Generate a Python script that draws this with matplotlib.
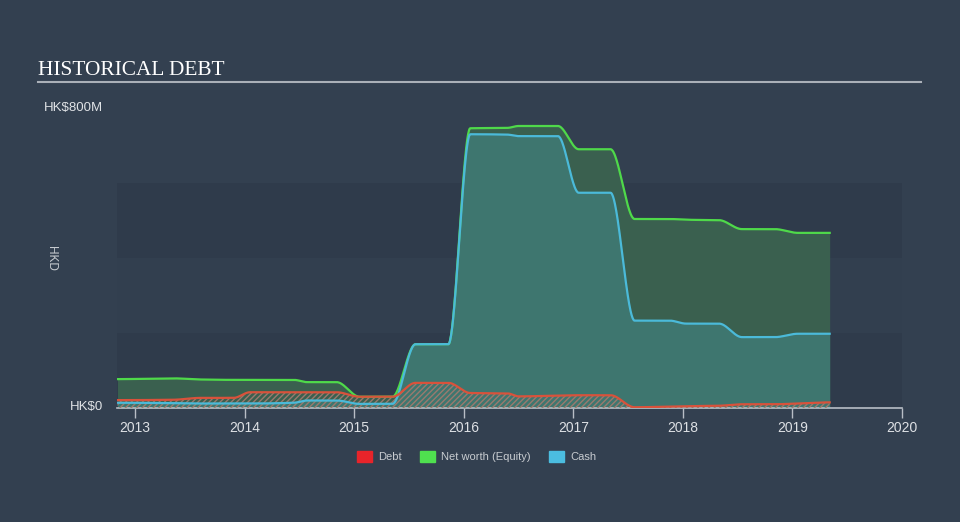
import numpy as np
import matplotlib
matplotlib.use("Agg")
import matplotlib.pyplot as plt
from matplotlib.patches import Rectangle

# ---- data (HK$ millions) ----
dates = [2012.84, 2013.35, 2013.6, 2013.9, 2014.05, 2014.45, 2014.57, 2014.84,
         2015.05, 2015.35, 2015.56, 2015.86, 2016.06, 2016.4, 2016.5, 2016.86,
         2017.05, 2017.34, 2017.56, 2017.88, 2018.03, 2018.33, 2018.54, 2018.84,
         2019.05, 2019.34]
net_worth = [77, 79, 76, 75, 75, 75, 69, 69,
             30, 30, 170, 170, 746, 747, 752, 752,
             690, 690, 504, 504, 502, 501, 477, 477,
             467, 467]
cash = [14, 13, 12, 12, 12, 14, 20, 20,
        11, 11, 170, 170, 730, 729, 725, 725,
        574, 574, 233, 233, 225, 225, 189, 189,
        198, 198]
debt = [21, 22, 27, 27, 42, 42, 42, 42,
        30, 30, 67, 67, 40, 39, 31, 33,
        34, 34, 2, 4, 5, 6, 10, 10,
        12, 15]
year_ticks = [2013, 2014, 2015, 2016, 2017, 2018, 2019, 2020]
y_labels = ["HK$0", "HK$800M"]


def pchip(x, y, xs):
    x = np.asarray(x, float)
    y = np.asarray(y, float)
    h = np.diff(x)
    d = np.diff(y) / h
    n = len(x)
    m = np.zeros(n)
    for k in range(1, n - 1):
        if d[k - 1] * d[k] > 0:
            w1 = 2 * h[k] + h[k - 1]
            w2 = h[k] + 2 * h[k - 1]
            m[k] = (w1 + w2) / (w1 / d[k - 1] + w2 / d[k])
    idx = np.clip(np.searchsorted(x, xs) - 1, 0, n - 2)
    t = (xs - x[idx]) / h[idx]
    h00 = 2 * t**3 - 3 * t**2 + 1
    h10 = t**3 - 2 * t**2 + t
    h01 = -2 * t**3 + 3 * t**2
    h11 = t**3 - t**2
    return (h00 * y[idx] + h10 * h[idx] * m[idx] + h01 * y[idx + 1]
            + h11 * h[idx] * m[idx + 1])


xs = np.linspace(dates[0], dates[-1], 1500)
nw_s = pchip(dates, net_worth, xs)
cash_s = pchip(dates, cash, xs)
debt_s = pchip(dates, debt, xs)

BG = "#334050"
fig = plt.figure(figsize=(9.6, 5.22), dpi=100)
fig.patch.set_facecolor(BG)

ax = fig.add_axes([117 / 960, 1 - 408 / 522, 785 / 960, 300 / 522])
ax.set_facecolor("none")
ax.set_xlim(2012.836, 2020)
ax.set_ylim(0, 800)

# background bands
ax.axhspan(0, 200, color="#2f3b4b", zorder=0, lw=0)
ax.axhspan(200, 400, color="#323f4f", zorder=0, lw=0)
ax.axhspan(400, 600, color="#2f3b4b", zorder=0, lw=0)

ax.fill_between(xs, 0, nw_s, color="#3a604f", lw=0, zorder=1)
ax.fill_between(xs, 0, cash_s, color="#3e766f", lw=0, zorder=2)
ax.fill_between(xs, 0, debt_s, facecolor="none", edgecolor="#9a7a6e",
                hatch="//////", lw=0, zorder=3)
ax.plot(xs, nw_s, color="#4fd94a", lw=1.6, zorder=4)
ax.plot(xs, cash_s, color="#4bbad9", lw=1.6, zorder=5)
ax.plot(xs, debt_s, color="#d9523b", lw=1.6, zorder=6)

for s in ["top", "right", "left"]:
    ax.spines[s].set_visible(False)
ax.spines["bottom"].set_color("#b8bec6")
ax.spines["bottom"].set_linewidth(1.2)
ax.set_yticks([])
ax.set_xticks(year_ticks)
ax.set_xticklabels([str(y) for y in year_ticks], color="#dde0e4",
                   fontsize=10, family="Liberation Sans")
ax.tick_params(axis="x", colors="#b8bec6", length=7, width=1, pad=2,
               labelcolor="#dde0e4")

# y labels
fig.text(103 / 960, 1 - 108 / 522, y_labels[1], color="#e0e3e6", fontsize=9.5,
         family="Liberation Sans", ha="right", va="center")
fig.text(103 / 960, 1 - 407 / 522, y_labels[0], color="#e0e3e6", fontsize=9.5,
         family="Liberation Sans", ha="right", va="center")
fig.text(51 / 960, 1 - 258 / 522, "HKD", color="#c8ccd0", fontsize=8.5,
         family="Liberation Sans", rotation=270, ha="center", va="center")

# title
fig.text(38 / 960, 1 - 75 / 522, "HISTORICAL DEBT", color="#ffffff",
         fontsize=15.4, family="Liberation Serif", ha="left", va="baseline")
fig.add_artist(plt.Line2D([38 / 960, 921 / 960], [1 - 82 / 522, 1 - 82 / 522],
                          color="#aab0b8", lw=1.5, transform=fig.transFigure))

# legend
items = [("Debt", "#e8242a", 357), ("Net worth (Equity)", "#4fe04f", 420),
         ("Cash", "#4bbde0", 549)]
for label, col, x0 in items:
    fig.add_artist(Rectangle((x0 / 960, 1 - 462 / 522), 15 / 960, 11 / 522,
                             color=col, transform=fig.transFigure))
    fig.text((x0 + 21) / 960, 1 - 457 / 522, label, color="#c8ccd0",
             fontsize=8, family="Liberation Sans", ha="left", va="center")

fig.savefig("out.png", dpi=100, facecolor=BG)
